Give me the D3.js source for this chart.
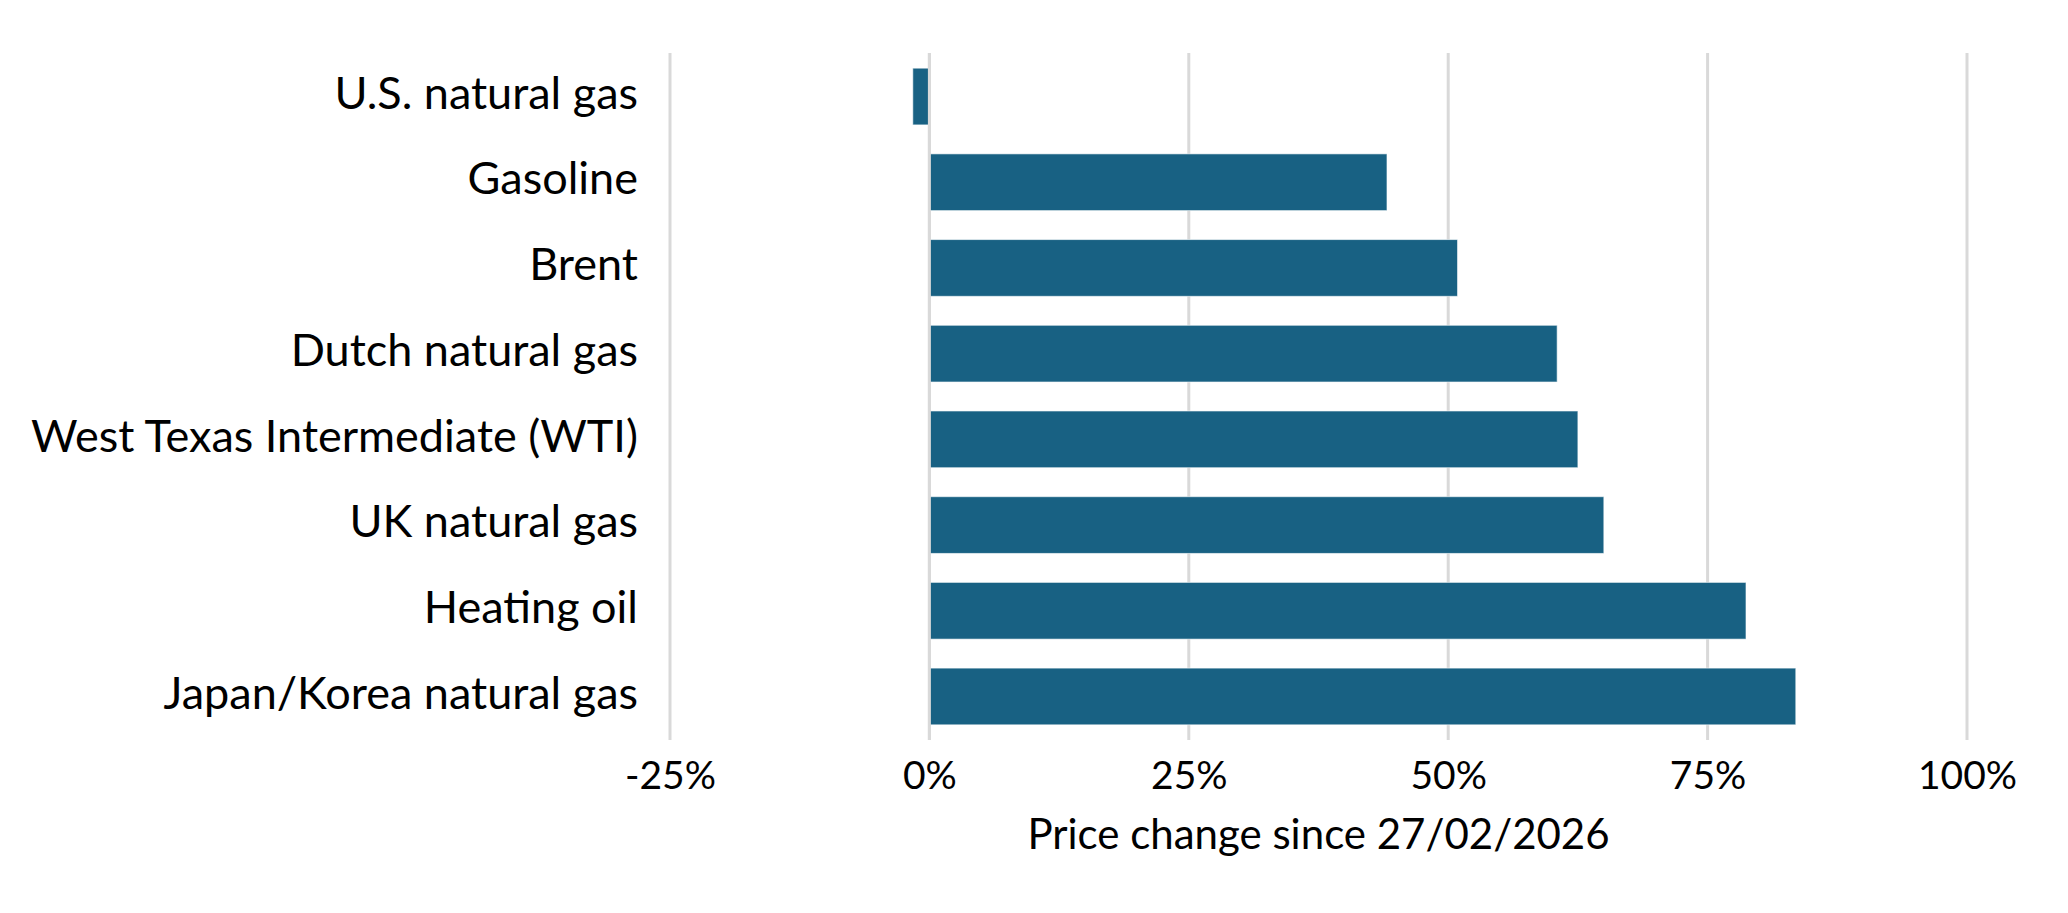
<!DOCTYPE html>
<html>
<head>
<meta charset="utf-8">
<title>Price change since 27/02/2026</title>
<script src="https://cdn.jsdelivr.net/npm/d3@7"></script>
<style>
  body { margin: 0; background: #ffffff; }
  svg { display: block; }
</style>
</head>
<body>
<div id="bar-chart"></div>
<script>
// the data behind the chart
let categories = ["U.S. natural gas", "Gasoline", "Brent", "Dutch natural gas",
    "West Texas Intermediate (WTI)", "UK natural gas", "Heating oil", "Japan/Korea natural gas"];
let priceChange = [-1.6, 44.1, 50.9, 60.5, 62.5, 65.0, 78.7, 83.5];
let tickValues = [-25, 0, 25, 50, 75, 100];
let axisTitle = "Price change since 27/02/2026";

//  size of the svg and the plot area
let width = 2068,
    height = 913,
    plotLeft = 670,
    plotRight = 1967,
    plotTop = 53,
    plotBottom = 740;

let fontFamily = "Lato, 'Open Sans', sans-serif";

let svg = d3.select("#bar-chart").append("svg")
    .attr("width", width)
    .attr("height", height)
    .attr("viewBox", [0, 0, width, height]);

let x = d3.scaleLinear()
    .domain([-25, 100])
    .range([plotLeft, plotRight]);

let y = d3.scaleBand()
    .domain(categories)
    .range([plotTop, plotBottom])
    .paddingInner(0.338)
    .paddingOuter(0.177);

// vertical gridlines
svg.append("g")
    .selectAll("line").data(tickValues)
    .enter().append("line")
    .attr("x1", d => x(d))
    .attr("x2", d => x(d))
    .attr("y1", plotTop)
    .attr("y2", plotBottom)
    .attr("stroke", "#d9d9d9")
    .attr("stroke-width", 3);

// bars
svg.append("g")
    .selectAll("rect").data(priceChange)
    .enter().append("rect")
    .attr("x", d => x(Math.min(0, d)))
    .attr("width", d => Math.abs(x(d) - x(0)))
    .attr("y", (d, i) => y(categories[i]))
    .attr("height", y.bandwidth())
    .attr("fill", "#186183")
    .attr("stroke", "#ffffff")
    .attr("stroke-opacity", 0.6)
    .attr("stroke-width", 1);

// zero line sits on top of the bars
svg.append("line")
    .attr("x1", x(0))
    .attr("x2", x(0))
    .attr("y1", plotTop)
    .attr("y2", plotBottom)
    .attr("stroke", "#d9d9d9")
    .attr("stroke-width", 3);

// category labels
let yAxis = svg.append("g")
    .attr("transform", "translate(" + (plotLeft - 32) + ",0)")
    .call(d3.axisLeft(y).tickSize(0).tickPadding(0));
yAxis.select(".domain").remove();
yAxis.selectAll("text")
    .attr("fill", "#000000")
    .attr("dy", "0.27em")
    .style("font-family", fontFamily)
    .style("font-size", "45px");

// x axis tick labels
let xAxis = svg.append("g")
    .attr("transform", "translate(0," + plotBottom + ")")
    .call(d3.axisBottom(x).tickValues(tickValues).tickSize(0).tickPadding(21)
        .tickFormat(d => d + "%"));
xAxis.select(".domain").remove();
xAxis.selectAll("text")
    .attr("fill", "#000000")
    .style("font-family", fontFamily)
    .style("font-size", "39px");

// axis title
svg.append("text")
    .attr("x", (plotLeft + plotRight) / 2)
    .attr("y", 849)
    .attr("text-anchor", "middle")
    .attr("fill", "#000000")
    .style("font-family", fontFamily)
    .style("font-size", "42px")
    .text(axisTitle);
</script>
</body>
</html>
